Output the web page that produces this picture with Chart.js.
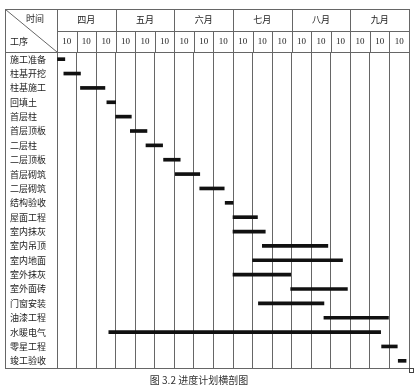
<!DOCTYPE html>
<html>
<head>
<meta charset="utf-8">
<script src="https://cdn.jsdelivr.net/npm/chart.js@4"></script>
<style>
  html, body { margin: 0; padding: 0; background: #fff; }
  canvas { display: block; }
</style>
</head>
<body>
<canvas id="gantt" width="416" height="389"></canvas>
<script>
// 工序
const tasks = ["施工准备", "柱基开挖", "柱基施工", "回填土", "首层柱", "首层顶板", "二层柱", "二层顶板",
  "首层砌筑", "二层砌筑", "结构验收", "屋面工程", "室内抹灰", "室内吊顶", "室内地面", "室外抹灰",
  "室外面砖", "门窗安装", "油漆工程", "水暖电气", "零星工程", "竣工验收"];

// start / end in 10-day periods from 1 April
const startVals = [0, 0.35, 1.2, 2.55, 3.0, 3.75, 4.55, 5.45, 6.05, 7.3, 8.6, 9.0, 9.0, 10.5, 10.0, 9.0, 11.95, 10.3, 13.65, 2.65, 16.6, 17.45];
const endVals = [0.4, 1.2, 2.45, 3.0, 3.8, 4.6, 5.4, 6.3, 7.3, 8.55, 9.0, 10.25, 10.65, 13.85, 14.6, 11.95, 14.85, 13.65, 16.95, 16.55, 17.4, 17.85];

const months = ["四月", "五月", "六月", "七月", "八月", "九月"];
const periodLabels = ["10", "10", "10", "10", "10", "10", "10", "10", "10",
  "10", "10", "10", "10", "10", "10", "10", "10", "10"];

const lineColor = "#666";
const cjk = "'Noto Sans CJK SC', 'Noto Sans', sans-serif";

const headerPlugin = {
  id: "header",
  afterDraw(chart) {
    const ctx = chart.ctx;
    const xs = chart.scales.x;
    const area = chart.chartArea;
    const left = 5, top = 9, midY = 31;
    const headY = area.top;
    ctx.save();
    ctx.strokeStyle = lineColor;
    ctx.lineWidth = 1;

    // frame
    ctx.strokeRect(left + 0.5, top + 0.5, Math.round(area.right) - left, Math.round(area.bottom) - top);
    ctx.beginPath();
    ctx.moveTo(Math.round(area.left), midY + 0.5);
    ctx.lineTo(Math.round(area.right), midY + 0.5);
    ctx.moveTo(left, Math.round(headY) + 0.5);
    ctx.lineTo(Math.round(area.right), Math.round(headY) + 0.5);
    // diagonal in the corner cell
    ctx.moveTo(left + 0.5, top + 0.5);
    ctx.lineTo(Math.round(area.left), Math.round(headY));
    ctx.stroke();

    // header column lines
    ctx.beginPath();
    for (let i = 0; i <= periodLabels.length; i++) {
      const px = Math.round(xs.getPixelForValue(i)) + 0.5;
      ctx.moveTo(px, i % 3 === 0 ? top : midY);
      ctx.lineTo(px, headY);
    }
    ctx.stroke();

    // little resize handle at the corner
    ctx.strokeStyle = "#444";
    ctx.strokeRect(Math.round(area.right) + 0.5, Math.round(area.bottom) + 0.5, 4, 4);

    ctx.fillStyle = "#222";
    ctx.textBaseline = "middle";
    ctx.textAlign = "center";
    ctx.font = "9px " + cjk;
    months.forEach((m, i) => {
      ctx.fillText(m, xs.getPixelForValue(i * 3 + 1.5), 20);
    });
    ctx.font = "9px 'Liberation Serif', serif";
    periodLabels.forEach((p, i) => {
      ctx.fillText(p, xs.getPixelForValue(i + 0.5), 42);
    });
    ctx.font = "9px " + cjk;
    ctx.fillText("时间", 35, 19);
    ctx.textAlign = "left";
    ctx.fillText("工序", 10, 42);

    ctx.textAlign = "center";
    ctx.fillStyle = "#333";
    ctx.font = "10px " + cjk;
    ctx.fillText("图 3.2 进度计划横剖图", 199, 380);
    ctx.restore();
  }
};

new Chart(document.getElementById("gantt"), {
  type: "bar",
  data: {
    labels: tasks,
    datasets: [{
      data: tasks.map((t, i) => [startVals[i], endVals[i]]),
      backgroundColor: "#111",
      barThickness: 3
    }]
  },
  options: {
    indexAxis: "y",
    responsive: false,
    devicePixelRatio: 1,
    animation: false,
    layout: { padding: { left: 10, top: 52, right: 7, bottom: 21 } },
    plugins: {
      legend: { display: false },
      tooltip: { enabled: false }
    },
    scales: {
      x: {
        type: "linear",
        position: "top",
        min: 0,
        max: 18,
        ticks: { display: false, stepSize: 1 },
        grid: { color: lineColor, lineWidth: 1, drawTicks: false },
        border: { display: false },
        afterFit(scale) { scale.height = 0; }
      },
      y: {
        grid: { display: false },
        border: { display: true, color: lineColor },
        ticks: {
          autoSkip: false,
          crossAlign: "far",
          padding: 0,
          color: "#222",
          font: { family: cjk, size: 9 }
        },
        afterFit(scale) { scale.width = 47; }
      }
    }
  },
  plugins: [headerPlugin]
});
</script>
</body>
</html>
